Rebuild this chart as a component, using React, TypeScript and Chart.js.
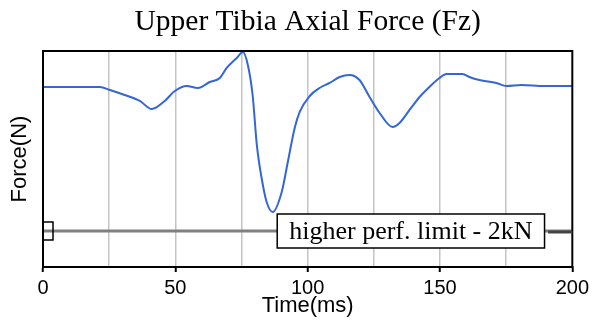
import React, { useEffect, useRef } from "react";
import { Chart, registerables } from "chart.js";

Chart.register(...registerables);

const TITLE = "Upper Tibia Axial Force (Fz)";
const X_TITLE = "Time(ms)";
const Y_TITLE = "Force(N)";
const LIMIT_LABEL = "higher perf. limit - 2kN";

const timeMs = [
  0, 21.5, 25.3, 30.9, 36.6, 41.1, 46.0, 49.8, 54.3, 58.5, 63.0, 66.8, 69.4, 73.2, 75.5,
  77.4, 79.2, 80.8, 82.6, 84.5, 86.8, 90.2, 92.5, 95.1, 97.0, 100.8, 104.5, 108.3, 112.1,
  115.8, 119.6, 123.4, 127.2, 132.1, 134.7, 138.5, 142.3, 146.0, 149.8, 152.5, 158.5,
  161.1, 164.9, 171.3, 175.1, 180.8, 189.4, 200,
];
const forceN = [
  0, 0, -42, -111, -194, -306, -194, -56, 14, -14, 69, 125, 264, 403, 486,
  306, -111, -806, -1264, -1597, -1736, -1458, -1042, -569, -347, -125, -14, 56, 139,
  167, 97, -139, -361, -556, -500, -319, -139, 0, 125, 181, 181,
  139, 97, 56, 14, 28, 14, 14,
];

const limitTime = [0, 200];
const limitForce = [-2000, -2000];
const LABEL_TIME = 139;

const xTicksMajor = [0, 50, 100, 150, 200];

export default function App() {
  const ref = useRef<HTMLCanvasElement | null>(null);

  useEffect(() => {
    document.body.style.margin = "0";
    const canvas = ref.current!;
    const overlay = {
      id: "overlay",
      afterDraw(chart: any) {
        const { ctx, chartArea } = chart;
        const xs = chart.scales.x;
        const ys = chart.scales.y;
        ctx.save();
        // frame
        ctx.strokeStyle = "#000";
        ctx.lineWidth = 2;
        ctx.strokeRect(chartArea.left, chartArea.top, chartArea.right - chartArea.left, chartArea.bottom - chartArea.top);
        // title
        ctx.fillStyle = "#000";
        ctx.font = "29.5px 'Liberation Serif'";
        ctx.textAlign = "center";
        ctx.textBaseline = "middle";
        ctx.fillText(TITLE, (chartArea.left + chartArea.right) / 2, 22);
        // limit marker square
        const ly = ys.getPixelForValue(limitForce[0]);
        const x0 = xs.getPixelForValue(limitTime[0]);
        ctx.lineWidth = 1.5;
        ctx.strokeStyle = "#000";
        ctx.strokeRect(x0, ly - 9, 10, 18);
        // right dark segment
        ctx.strokeStyle = "#444";
        ctx.lineWidth = 3;
        ctx.beginPath();
        ctx.moveTo(548, ly + 1);
        ctx.lineTo(xs.getPixelForValue(limitTime[1]), ly + 1);
        ctx.stroke();
        // label box
        ctx.font = "26px 'Liberation Serif'";
        const tw = ctx.measureText(LIMIT_LABEL).width;
        const cx = xs.getPixelForValue(LABEL_TIME);
        const bw = tw + 24;
        const bh = 34;
        ctx.fillStyle = "#fff";
        ctx.fillRect(cx - bw / 2, ly - bh / 2, bw, bh);
        ctx.strokeStyle = "#000";
        ctx.lineWidth = 1.5;
        ctx.strokeRect(cx - bw / 2, ly - bh / 2, bw, bh);
        ctx.fillStyle = "#000";
        ctx.textAlign = "center";
        ctx.textBaseline = "middle";
        ctx.fillText(LIMIT_LABEL, cx, ly + 1);
        ctx.restore();
      },
    };

    const chart = new Chart(canvas, {
      type: "line",
      data: {
        datasets: [
          {
            label: "limit",
            data: limitTime.map((t, i) => ({ x: t, y: limitForce[i] })),
            borderColor: "#808080",
            borderWidth: 3,
            pointRadius: 0,
            order: 2,
          },
          {
            label: "Fz",
            data: timeMs.map((t, i) => ({ x: t, y: forceN[i] })),
            borderColor: "#3366d6",
            borderWidth: 2,
            pointRadius: 0,
            cubicInterpolationMode: "monotone",
            order: 1,
          },
        ],
      },
      options: {
        animation: false,
        responsive: false,
        maintainAspectRatio: false,
        layout: { padding: { top: 51, right: 20, left: 0, bottom: 0 } },
        plugins: { legend: { display: false }, tooltip: { enabled: false }, title: { display: false } },
        scales: {
          x: {
            type: "linear",
            min: 0,
            max: 200,
            afterFit: (s: any) => {
              s.height = 62;
            },
            afterBuildTicks: (s: any) => {
              s.ticks = [0, 25, 50, 75, 100, 125, 150, 175, 200].map((v) => ({ value: v }));
            },
            ticks: {
              color: "#000",
              font: { family: "'Liberation Sans'", size: 20 },
              padding: 4,
              maxRotation: 0,
              autoSkip: false,
              callback: (v: any) => (xTicksMajor.includes(Number(v)) ? String(v) : ""),
            },
            grid: {
              color: (c: any) => (c.tick && (c.tick.value === 0 || c.tick.value === 200) ? "rgba(0,0,0,0)" : "#c4c4c4"),
              lineWidth: 1.5,
              tickLength: 5,
              tickColor: (c: any) => (c.tick && xTicksMajor.includes(c.tick.value) ? "#000" : "rgba(0,0,0,0)"),
              tickWidth: 2,
            },
            border: { display: true, color: "#000", width: 2 },
            title: {
              display: true,
              text: X_TITLE,
              color: "#000",
              font: { family: "'Liberation Sans'", size: 22 },
              padding: { top: 0, bottom: 10 },
            },
          },
          y: {
            type: "linear",
            min: -2500,
            max: 500,
            afterFit: (s: any) => {
              s.width = 43;
            },
            ticks: { display: false },
            grid: { display: false },
            border: { display: true, color: "#000", width: 2 },
            title: {
              display: true,
              text: Y_TITLE,
              color: "#000",
              font: { family: "'Liberation Sans'", size: 22 },
              padding: { top: 7, bottom: 0 },
            },
          },
        },
      },
      plugins: [overlay],
    } as any);
    return () => chart.destroy();
  }, []);

  return (
    <div style={{ position: "fixed", left: 0, top: 0, width: 593, height: 329, background: "#fff" }}>
      <canvas ref={ref} width={593} height={329} style={{ width: 593, height: 329 }} />
    </div>
  );
}
